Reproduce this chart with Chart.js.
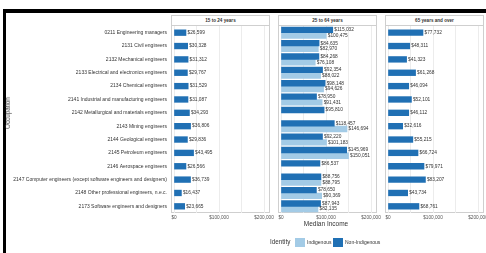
<!DOCTYPE html>
<html>
<head>
<meta charset="utf-8">
<script src="https://cdn.jsdelivr.net/npm/chart.js@4"></script>
<style>
  body { margin: 0; width: 486px; height: 253px; overflow: hidden; background: #fff; position: relative;
         font-family: "Liberation Sans", Arial, sans-serif; color: #333; }
  .frame { position: absolute; background: #000; }
  .panel { position: absolute; top: 15px; width: 99px; height: 198px; border: 1px solid #cfcfcf; box-sizing: border-box; }
  .head { position: absolute; left: 0; right: 0; top: 0; height: 9px; border-bottom: 1px solid #cfcfcf;
          font-weight: bold; font-size: 4.6px; line-height: 9px; text-align: center; }
  canvas { position: absolute; top: 0; }
  .txt { position: absolute; white-space: nowrap; line-height: 1; }
  .swatch { position: absolute; width: 10px; height: 9px; top: 238px; }
</style>
</head>
<body>
<div class="frame" style="left:3px;top:9px;width:483px;height:4px"></div>
<div class="frame" style="left:3px;top:9px;width:3px;height:244px"></div>

<div class="panel" style="left:171px"><div class="head">15 to 24 years</div></div>
<div class="panel" style="left:278px"><div class="head">25 to 64 years</div></div>
<div class="panel" style="left:385px"><div class="head">65 years and over</div></div>

<canvas id="young" width="290" height="253" style="left:0"></canvas>
<canvas id="core" width="134" height="253" style="left:263px"></canvas>
<canvas id="senior" width="134" height="253" style="left:370px"></canvas>

<div class="txt" style="left:8px;top:113px;font-size:6.3px;transform:translate(-50%,-50%) rotate(-90deg)">Occupation</div>
<div class="txt" style="left:326px;top:221px;font-size:6.5px;transform:translateX(-50%)">Median Income</div>

<div class="txt" style="left:270px;top:239px;font-size:6.3px">Identity</div>
<div class="swatch" style="left:295px;background:#a3cbe6"></div>
<div class="txt" style="left:307px;top:240px;font-size:5px">Indigenous</div>
<div class="swatch" style="left:333px;background:#2070b4"></div>
<div class="txt" style="left:345px;top:240px;font-size:5px">Non-Indigenous</div>

<script>
const categories = [
  "0211 Engineering managers",
  "2131 Civil engineers",
  "2132 Mechanical engineers",
  "2133 Electrical and electronics engineers",
  "2134 Chemical engineers",
  "2141 Industrial and manufacturing engineers",
  "2142 Metallurgical and materials engineers",
  "2143 Mining engineers",
  "2144 Geological engineers",
  "2145 Petroleum engineers",
  "2146 Aerospace engineers",
  "2147 Computer engineers (except software engineers and designers)",
  "2148 Other professional engineers, n.e.c.",
  "2173 Software engineers and designers"
];
const youngNonIndigenous = [26599, 30328, 31312, 29767, 31529, 31087, 34293, 36806, 29836, 43495, 26566, 36739, 16437, 23665];
const coreNonIndigenous = [115032, 84635, 84268, 92354, 98148, 78950, 95810, 118457, 92220, 145969, 86537, 88756, 78650, 87943];
const coreIndigenous = [100475, 82970, 76108, 88022, 94626, 91431, null, 146694, 101183, 150051, null, 88795, 90369, 82135];
const seniorNonIndigenous = [77732, 48311, 41323, 61268, 46094, 52101, 46112, 32616, 55215, 66724, 79971, 83207, 43734, 68761];
const gridValues = [0, 50000, 100000, 150000, 200000];

const DARK = "#2070b4";
const LIGHT = "#a3cbe6";
const FONT = '"Liberation Sans", Arial, sans-serif';

const money = v => "$" + String(v).replace(/\B(?=(\d{3})+(?!\d))/g, ",");

const valueLabels = {
  id: "valueLabels",
  afterDatasetsDraw(chart) {
    const ctx = chart.ctx;
    ctx.save();
    ctx.font = "4.8px " + FONT;
    ctx.fillStyle = "#333";
    ctx.textBaseline = "middle";
    chart.data.datasets.forEach((ds, i) => {
      chart.getDatasetMeta(i).data.forEach((bar, j) => {
        const v = ds.data[j];
        if (v == null) return;
        ctx.fillText(money(v), bar.x + 1.5, bar.y);
      });
    });
    ctx.restore();
  }
};

function makePanel(id, datasets, showLabels) {
  return new Chart(document.getElementById(id), {
    type: "bar",
    data: { labels: categories, datasets: datasets },
    options: {
      indexAxis: "y",
      responsive: false,
      animation: false,
      devicePixelRatio: 1,
      layout: { padding: showLabels ? { left: 0, right: 20, top: 26, bottom: 0 } : { left: 18, right: 20, top: 26, bottom: 0 } },
      datasets: { bar: { barThickness: 5.7 } },
      scales: {
        x: {
          min: 0,
          max: 213333,
          grid: { color: "#ececec", drawTicks: false },
          border: { display: false },
          afterBuildTicks(scale) { scale.ticks = gridValues.map(v => ({ value: v })); },
          ticks: {
            autoSkip: false,
            maxRotation: 0,
            padding: 2,
            color: "#555",
            font: { size: 4.7, family: FONT },
            callback: v => (Math.round(v) % 100000 === 0 ? money(Math.round(v)) : "")
          },
          afterFit(scale) { scale.height = 40; }
        },
        y: {
          display: showLabels,
          grid: { display: false, drawTicks: false },
          border: { display: false },
          ticks: { padding: 7, color: "#333", font: { size: 5, family: FONT } },
          afterFit(scale) { if (showLabels) scale.width = 174; }
        }
      },
      plugins: { legend: { display: false }, tooltip: { enabled: false } }
    },
    plugins: [valueLabels]
  });
}

makePanel("young", [
  { label: "Non-Indigenous", data: youngNonIndigenous, backgroundColor: DARK }
], true);
makePanel("core", [
  { label: "Non-Indigenous", data: coreNonIndigenous, backgroundColor: DARK },
  { label: "Indigenous", data: coreIndigenous, backgroundColor: LIGHT }
], false);
makePanel("senior", [
  { label: "Non-Indigenous", data: seniorNonIndigenous, backgroundColor: DARK }
], false);
</script>
</body>
</html>
